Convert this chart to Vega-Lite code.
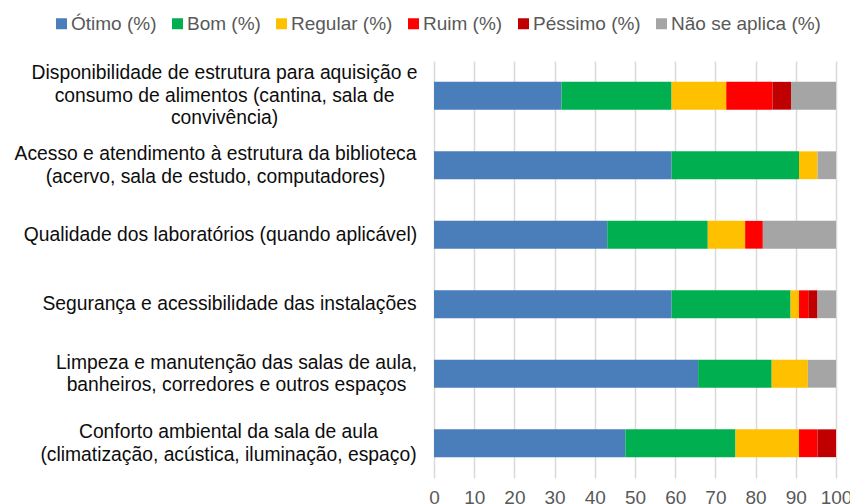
{
  "$schema": "https://vega.github.io/schema/vega-lite/v6.json",
  "autosize": "none",
  "width": 402,
  "height": 417,
  "padding": {"left": 434, "top": 61, "right": 14, "bottom": 26},
  "background": "white",
  "config": {
    "font": "Liberation Sans",
    "view": {"stroke": null}
  },
  "data": {
    "values": [
      {"cat": "Disponibilidade de estrutura para aquisição e|consumo de alimentos (cantina, sala de|convivência)", "resp": "Ótimo (%)", "ord": 1, "val": 31.7},
      {"cat": "Disponibilidade de estrutura para aquisição e|consumo de alimentos (cantina, sala de|convivência)", "resp": "Bom (%)", "ord": 2, "val": 27.4},
      {"cat": "Disponibilidade de estrutura para aquisição e|consumo de alimentos (cantina, sala de|convivência)", "resp": "Regular (%)", "ord": 3, "val": 13.6},
      {"cat": "Disponibilidade de estrutura para aquisição e|consumo de alimentos (cantina, sala de|convivência)", "resp": "Ruim (%)", "ord": 4, "val": 11.5},
      {"cat": "Disponibilidade de estrutura para aquisição e|consumo de alimentos (cantina, sala de|convivência)", "resp": "Péssimo (%)", "ord": 5, "val": 4.6},
      {"cat": "Disponibilidade de estrutura para aquisição e|consumo de alimentos (cantina, sala de|convivência)", "resp": "Não se aplica (%)", "ord": 6, "val": 11.2},
      {"cat": "Acesso e atendimento à estrutura da biblioteca|(acervo, sala de estudo, computadores)", "resp": "Ótimo (%)", "ord": 1, "val": 59.1},
      {"cat": "Acesso e atendimento à estrutura da biblioteca|(acervo, sala de estudo, computadores)", "resp": "Bom (%)", "ord": 2, "val": 31.7},
      {"cat": "Acesso e atendimento à estrutura da biblioteca|(acervo, sala de estudo, computadores)", "resp": "Regular (%)", "ord": 3, "val": 4.6},
      {"cat": "Acesso e atendimento à estrutura da biblioteca|(acervo, sala de estudo, computadores)", "resp": "Não se aplica (%)", "ord": 6, "val": 4.6},
      {"cat": "Qualidade dos laboratórios (quando aplicável)", "resp": "Ótimo (%)", "ord": 1, "val": 43.1},
      {"cat": "Qualidade dos laboratórios (quando aplicável)", "resp": "Bom (%)", "ord": 2, "val": 25.0},
      {"cat": "Qualidade dos laboratórios (quando aplicável)", "resp": "Regular (%)", "ord": 3, "val": 9.3},
      {"cat": "Qualidade dos laboratórios (quando aplicável)", "resp": "Ruim (%)", "ord": 4, "val": 4.4},
      {"cat": "Qualidade dos laboratórios (quando aplicável)", "resp": "Não se aplica (%)", "ord": 6, "val": 18.2},
      {"cat": "Segurança e acessibilidade das instalações", "resp": "Ótimo (%)", "ord": 1, "val": 59.1},
      {"cat": "Segurança e acessibilidade das instalações", "resp": "Bom (%)", "ord": 2, "val": 29.6},
      {"cat": "Segurança e acessibilidade das instalações", "resp": "Regular (%)", "ord": 3, "val": 2.1},
      {"cat": "Segurança e acessibilidade das instalações", "resp": "Ruim (%)", "ord": 4, "val": 2.3},
      {"cat": "Segurança e acessibilidade das instalações", "resp": "Péssimo (%)", "ord": 5, "val": 2.3},
      {"cat": "Segurança e acessibilidade das instalações", "resp": "Não se aplica (%)", "ord": 6, "val": 4.6},
      {"cat": "Limpeza e manutenção das salas de aula,|banheiros, corredores e outros espaços", "resp": "Ótimo (%)", "ord": 1, "val": 65.7},
      {"cat": "Limpeza e manutenção das salas de aula,|banheiros, corredores e outros espaços", "resp": "Bom (%)", "ord": 2, "val": 18.3},
      {"cat": "Limpeza e manutenção das salas de aula,|banheiros, corredores e outros espaços", "resp": "Regular (%)", "ord": 3, "val": 9.0},
      {"cat": "Limpeza e manutenção das salas de aula,|banheiros, corredores e outros espaços", "resp": "Não se aplica (%)", "ord": 6, "val": 7.0},
      {"cat": "Conforto ambiental da sala de aula|(climatização, acústica, iluminação, espaço)", "resp": "Ótimo (%)", "ord": 1, "val": 47.6},
      {"cat": "Conforto ambiental da sala de aula|(climatização, acústica, iluminação, espaço)", "resp": "Bom (%)", "ord": 2, "val": 27.4},
      {"cat": "Conforto ambiental da sala de aula|(climatização, acústica, iluminação, espaço)", "resp": "Regular (%)", "ord": 3, "val": 15.8},
      {"cat": "Conforto ambiental da sala de aula|(climatização, acústica, iluminação, espaço)", "resp": "Ruim (%)", "ord": 4, "val": 4.6},
      {"cat": "Conforto ambiental da sala de aula|(climatização, acústica, iluminação, espaço)", "resp": "Péssimo (%)", "ord": 5, "val": 4.6}
    ]
  },
  "mark": {"type": "bar"},
  "encoding": {
    "y": {
      "field": "cat",
      "type": "nominal",
      "sort": null,
      "scale": {"paddingInner": 0.6, "paddingOuter": 0.3},
      "axis": {
        "title": null,
        "domain": false,
        "ticks": false,
        "tickSize": 0,
        "labelAlign": "center",
        "labelBaseline": "middle",
        "labelPadding": {
          "condition": [
            {"test": "indexof(datum.value, 'Disponibilidade') == 0", "value": 210},
            {"test": "indexof(datum.value, 'Acesso') == 0", "value": 219},
            {"test": "indexof(datum.value, 'Qualidade') == 0", "value": 214},
            {"test": "indexof(datum.value, 'Segurança') == 0", "value": 205},
            {"test": "indexof(datum.value, 'Limpeza') == 0", "value": 198}
          ],
          "value": 206
        },
        "labelLimit": 600,
        "labelFontSize": 19.3,
        "labelColor": "#0d0d0d",
        "labelLineHeight": 22.5,
        "labelOffset": {
          "condition": [
            {"test": "length(split(datum.value, '|')) == 3", "value": -22.5},
            {"test": "length(split(datum.value, '|')) == 2", "value": -11.25}
          ],
          "value": 0
        },
        "labelExpr": "split(datum.label, '|')"
      }
    },
    "x": {
      "field": "val",
      "type": "quantitative",
      "stack": "zero",
      "scale": {"domain": [0, 100], "nice": false},
      "axis": {
        "title": null,
        "values": [0, 10, 20, 30, 40, 50, 60, 70, 80, 90, 100],
        "domain": false,
        "ticks": false,
        "tickSize": 0,
        "labelFlush": false,
        "labelPadding": 10,
        "labelFontSize": 19,
        "labelColor": "#595959",
        "gridColor": "#d9d9d9",
        "gridWidth": 1.5
      }
    },
    "color": {
      "field": "resp",
      "type": "nominal",
      "scale": {
        "domain": ["Ótimo (%)", "Bom (%)", "Regular (%)", "Ruim (%)", "Péssimo (%)", "Não se aplica (%)"],
        "range": ["#4a7ebb", "#00b050", "#ffc000", "#ff0000", "#c00000", "#a5a5a5"]
      },
      "legend": {
        "title": null,
        "orient": "none",
        "direction": "horizontal",
        "columns": 6,
        "legendX": -382,
        "legendY": -47,
        "symbolType": "square",
        "symbolSize": 121,
        "symbolStrokeWidth": 0,
        "labelFontSize": 19,
        "labelColor": "#595959",
        "labelOffset": 0,
        "columnPadding": 11,
        "labelLimit": 300
      }
    },
    "order": {"field": "ord", "type": "quantitative"}
  }
}
